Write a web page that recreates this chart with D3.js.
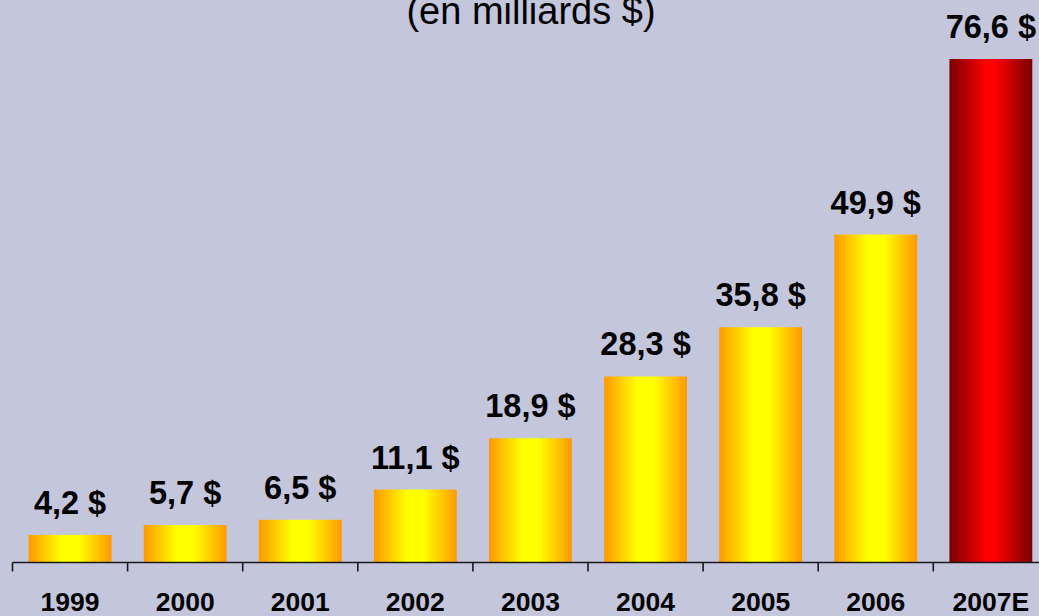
<!DOCTYPE html>
<html>
<head>
<meta charset="utf-8">
<script src="https://cdn.jsdelivr.net/npm/d3@7"></script>
<style>
  html, body { margin: 0; padding: 0; background: #C4C6DC; }
  svg { display: block; }
</style>
</head>
<body>
<script>
const categories = ["1999", "2000", "2001", "2002", "2003", "2004", "2005", "2006", "2007E"];
const values = [4.2, 5.7, 6.5, 11.1, 18.9, 28.3, 35.8, 49.9, 76.6];
const valueLabels = ["4,2 $", "5,7 $", "6,5 $", "11,1 $", "18,9 $", "28,3 $", "35,8 $", "49,9 $", "76,6 $"];
const estimated = [false, false, false, false, false, false, false, false, true];
const title = "(en milliards $)";

const W = 1039, H = 616;
const svg = d3.select("body").append("svg").attr("width", W).attr("height", H);
svg.append("rect").attr("width", W).attr("height", H).attr("fill", "#C4C6DC");

const defs = svg.append("defs");
const gOrange = defs.append("linearGradient").attr("id", "gOrange").attr("x1", "0%").attr("x2", "100%").attr("y1", "0%").attr("y2", "0%");
[[0, "#FF9900"], [0.4, "#FFFF00"], [0.6, "#FFFF00"], [1, "#FF9900"]].forEach(([o, c]) =>
  gOrange.append("stop").attr("offset", o).attr("stop-color", c));
const gRed = defs.append("linearGradient").attr("id", "gRed").attr("x1", "0%").attr("x2", "100%").attr("y1", "0%").attr("y2", "0%");
[[0, "#7A0000"], [0.45, "#FF0000"], [0.55, "#FF0000"], [1, "#7A0000"]].forEach(([o, c]) =>
  gRed.append("stop").attr("offset", o).attr("stop-color", c));

const x = d3.scaleBand().domain(categories).range([12.5, 12.5 + 115.1 * categories.length]).paddingInner(0.28).paddingOuter(0.14);
const baseY = 562.5;
const y = d3.scaleLinear().domain([0, 76.6]).range([baseY, 59]);

svg.append("g").selectAll("rect").data(categories).join("rect")
  .attr("x", d => x(d))
  .attr("width", x.bandwidth())
  .attr("y", (d, i) => y(values[i]))
  .attr("height", (d, i) => baseY - y(values[i]))
  .attr("fill", (d, i) => estimated[i] ? "url(#gRed)" : "url(#gOrange)");

svg.append("g").selectAll("text").data(categories).join("text")
  .attr("x", d => x(d) + x.bandwidth() / 2)
  .attr("y", (d, i) => y(values[i]) - 21)
  .attr("text-anchor", "middle")
  .attr("font-family", "Liberation Sans, Arial, sans-serif")
  .attr("font-weight", "bold")
  .attr("font-size", 32.5)
  .attr("fill", "#000")
  .text((d, i) => valueLabels[i]);

// axis
const step = x.step();
const bounds = d3.range(categories.length + 1).map(i => 12.5 + i * step);
const ax = svg.append("g");
ax.append("line").attr("x1", 12.5).attr("x2", W).attr("y1", baseY).attr("y2", baseY)
  .attr("stroke", "#1a1a1a").attr("stroke-width", 1.6);
ax.selectAll("line.tick").data(bounds).join("line").attr("class", "tick")
  .attr("x1", d => d).attr("x2", d => d).attr("y1", baseY).attr("y2", baseY + 9)
  .attr("stroke", "#1a1a1a").attr("stroke-width", 1.6);
ax.selectAll("text").data(categories).join("text")
  .attr("x", d => x(d) + x.bandwidth() / 2)
  .attr("y", 611)
  .attr("text-anchor", "middle")
  .attr("font-family", "Liberation Sans, Arial, sans-serif")
  .attr("font-weight", "bold")
  .attr("font-size", 26.5)
  .attr("fill", "#000")
  .text(d => d);

svg.append("text")
  .attr("x", 531).attr("y", 24)
  .attr("text-anchor", "middle")
  .attr("font-family", "Liberation Sans, Arial, sans-serif")
  .attr("font-size", 38)
  .attr("fill", "#000")
  .text(title);
</script>
</body>
</html>
